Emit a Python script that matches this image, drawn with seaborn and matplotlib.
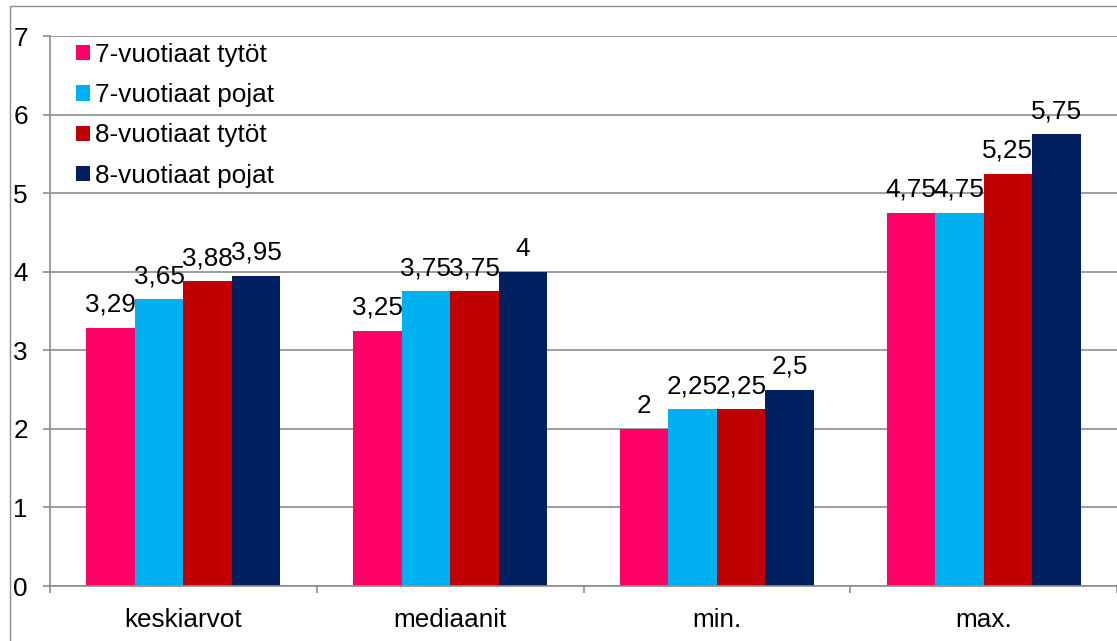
import matplotlib
matplotlib.use("Agg")
import matplotlib.pyplot as plt
from matplotlib.patches import Rectangle
import pandas as pd
import seaborn as sns

# Categories, groups and values
categories = ["keskiarvot", "mediaanit", "min.", "max."]
groups = ["7-vuotiaat tytöt", "7-vuotiaat pojat", "8-vuotiaat tytöt", "8-vuotiaat pojat"]
girls7 = [3.29, 3.25, 2.0, 4.75]
boys7 = [3.65, 3.75, 2.25, 4.75]
girls8 = [3.88, 3.75, 2.25, 5.25]
boys8 = [3.95, 4.0, 2.5, 5.75]
colors = ["#FF0066", "#00B0F0", "#C00000", "#002060"]
y_ticks = [0, 1, 2, 3, 4, 5, 6, 7]

series = [girls7, boys7, girls8, boys8]
rows = []
for g, vals in zip(groups, series):
    for c, v in zip(categories, vals):
        rows.append({"kategoria": c, "ryhmä": g, "arvo": v})
df = pd.DataFrame(rows)

plt.rcParams["font.family"] = ["Liberation Sans", "DejaVu Sans"]
FS = 18.8
GRID = "#8C8C8C"

fig = plt.figure(figsize=(11.17, 6.41), dpi=100)
W, H = 1117, 641
ax = fig.add_axes([50 / W, 1 - 586 / H, 1 - 50 / W, (586 - 36) / H])

sns.barplot(data=df, x="kategoria", y="arvo", hue="ryhmä", order=categories,
            hue_order=groups, palette=colors, width=0.7275, linewidth=0,
            saturation=1, errorbar=None, ax=ax)

ax.set_ylim(0, 7)
ax.set_xlim(-0.5, len(categories) - 0.5)
ax.set_yticks(y_ticks)
ax.set_yticklabels([str(t) for t in y_ticks], fontsize=FS)
ax.yaxis.grid(True, color=GRID, linewidth=1.2)
ax.set_axisbelow(True)
ax.set_xlabel("")
ax.set_ylabel("")

# category labels at centres, ticks at category boundaries
ax.set_xticks(range(len(categories)))
ax.set_xticklabels(categories, fontsize=FS)
ax.tick_params(axis="x", which="major", length=0, pad=16)
ax.set_xticks([i - 0.5 for i in range(len(categories) + 1)], minor=True)
ax.tick_params(axis="x", which="minor", length=5, color=GRID, width=1.2)
ax.tick_params(axis="y", length=5, color=GRID, width=1.2, pad=11)

for side in ["top", "right"]:
    ax.spines[side].set_visible(False)
for side in ["left", "bottom"]:
    ax.spines[side].set_color(GRID)
    ax.spines[side].set_linewidth(1.2)

# value labels
for cont, vals in zip(ax.containers, series):
    labels = [f"{v:g}".replace(".", ",") for v in vals]
    ax.bar_label(cont, labels=labels, fontsize=FS, padding=8)

# legend
handles, labels = ax.get_legend_handles_labels()
leg = ax.legend(handles, labels, loc="upper left",
                bbox_to_anchor=(76 / W, 1 - 43 / H), bbox_transform=fig.transFigure,
                frameon=False, fontsize=FS, handlelength=0.52, handleheight=0.52,
                handletextpad=0.2, labelspacing=0.62, borderpad=0, borderaxespad=0)

# outer chart border
fig.patches.append(Rectangle((10 / W, -0.1), 1.2, (1 - 6 / H) + 0.1,
                             transform=fig.transFigure, fill=False,
                             edgecolor=GRID, linewidth=1.0))

fig.savefig("out.png", dpi=100)
